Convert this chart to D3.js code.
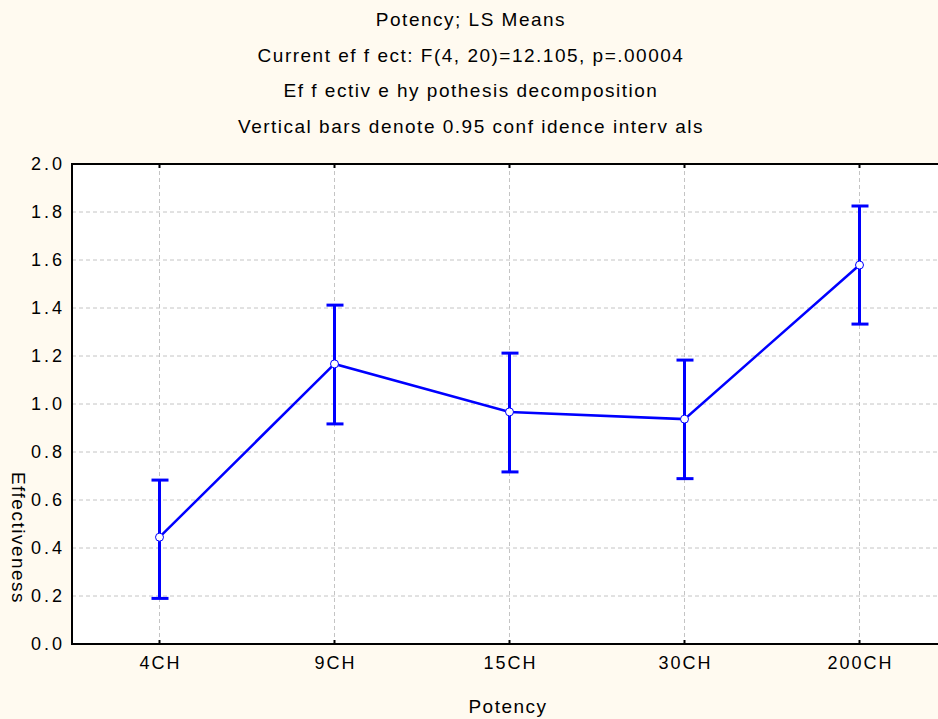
<!DOCTYPE html>
<html>
<head>
<meta charset="utf-8">
<script src="https://cdn.jsdelivr.net/npm/d3@7"></script>
<style>
  body { margin: 0; background: #fffaf0; }
  svg { display: block; font-family: "Liberation Sans", Arial, sans-serif; }
  text { letter-spacing: 1.5px; }
  .tick text { letter-spacing: 2px; }
  .yaxis .tick text { letter-spacing: 3px; }
  .grid line { stroke: #c4c4c4; stroke-dasharray: 4,3; stroke-width: 1; }
</style>
</head>
<body>
<script>
var categories = ["4CH", "9CH", "15CH", "30CH", "200CH"];
var means = [0.445, 1.167, 0.967, 0.937, 1.579];
var lower = [0.19, 0.917, 0.717, 0.689, 1.333];
var upper = [0.683, 1.412, 1.212, 1.183, 1.825];
var yTicks = [0.0, 0.2, 0.4, 0.6, 0.8, 1.0, 1.2, 1.4, 1.6, 1.8, 2.0];
var titleLines = [
    "Potency; LS Means",
    "Current ef f ect: F(4, 20)=12.105, p=.00004",
    "Ef f ectiv e hy pothesis decomposition",
    "Vertical bars denote 0.95 conf idence interv als"
];

var _width = 938, _height = 719,
    _margins = {top: 164, left: 72, bottom: 75},
    _titleSize = 19, _tickSize = 18;

var svg = d3.select("body").append("svg")
        .attr("width", _width)
        .attr("height", _height);

var x = d3.scaleBand()
        .domain(categories)
        .range([_margins.left, _margins.left + 875]);

var y = d3.scaleLinear()
        .domain([0, 2])
        .range([_height - _margins.bottom, _margins.top]);

function cx(c) { return x(c) + x.bandwidth() / 2; }

var data = categories.map(function (c, i) {
    return {cat: c, mean: means[i], lo: lower[i], hi: upper[i]};
});

// plot area
svg.append("rect")
        .attr("x", _margins.left)
        .attr("y", y(2))
        .attr("width", 875)
        .attr("height", y(0) - y(2))
        .attr("fill", "#ffffff");

// grid
var grid = svg.append("g").attr("class", "grid");
grid.selectAll("line.h").data(yTicks.slice(1, -1))
        .enter().append("line")
        .attr("class", "h")
        .attr("x1", _margins.left)
        .attr("x2", _width)
        .attr("y1", function (d) { return y(d); })
        .attr("y2", function (d) { return y(d); });
grid.selectAll("line.v").data(categories)
        .enter().append("line")
        .attr("class", "v")
        .attr("x1", cx)
        .attr("x2", cx)
        .attr("y1", y(2))
        .attr("y2", y(0));

// axes
var xAxis = d3.axisBottom(x).tickSize(0).tickPadding(12);
var xg = svg.append("g")
        .attr("transform", "translate(0," + y(0) + ")")
        .call(xAxis);
xg.select(".domain").remove();
xg.selectAll("text").attr("font-size", _tickSize).attr("fill", "#000")
        .attr("dx", 1)
        .attr("font-family", "Liberation Sans, Arial, sans-serif");

var yAxis = d3.axisLeft(y).tickValues(yTicks).tickSize(0).tickPadding(7)
        .tickFormat(d3.format(".1f"));
var yg = svg.append("g")
        .attr("class", "yaxis")
        .attr("transform", "translate(" + _margins.left + ",0)")
        .call(yAxis);
yg.select(".domain").remove();
yg.selectAll("text").attr("font-size", _tickSize).attr("fill", "#000")
        .attr("font-family", "Liberation Sans, Arial, sans-serif");

// frame lines
svg.append("line")
        .attr("x1", _margins.left).attr("x2", _width)
        .attr("y1", y(2)).attr("y2", y(2))
        .attr("stroke", "#000").attr("stroke-width", 2);
svg.append("line")
        .attr("x1", _margins.left).attr("x2", _width)
        .attr("y1", y(0)).attr("y2", y(0))
        .attr("stroke", "#000").attr("stroke-width", 2);
svg.append("line")
        .attr("x1", _margins.left).attr("x2", _margins.left)
        .attr("y1", y(2) - 1).attr("y2", y(0) + 1)
        .attr("stroke", "#000").attr("stroke-width", 2);

// small inner ticks
svg.selectAll("line.tt").data(categories)
        .enter().append("line")
        .attr("x1", cx).attr("x2", cx)
        .attr("y1", y(2)).attr("y2", y(2) + 4)
        .attr("stroke", "#000").attr("stroke-width", 2);
svg.selectAll("line.bt").data(categories)
        .enter().append("line")
        .attr("x1", cx).attr("x2", cx)
        .attr("y1", y(0)).attr("y2", y(0) - 4)
        .attr("stroke", "#000").attr("stroke-width", 2);

// error bars
var eb = svg.append("g").attr("stroke", "#0000ff").attr("stroke-width", 3);
eb.selectAll("line.bar").data(data)
        .enter().append("line")
        .attr("x1", function (d) { return cx(d.cat); })
        .attr("x2", function (d) { return cx(d.cat); })
        .attr("y1", function (d) { return y(d.lo); })
        .attr("y2", function (d) { return y(d.hi); });
eb.selectAll("line.capHi").data(data)
        .enter().append("line")
        .attr("x1", function (d) { return cx(d.cat) - 8; })
        .attr("x2", function (d) { return cx(d.cat) + 9; })
        .attr("y1", function (d) { return y(d.hi); })
        .attr("y2", function (d) { return y(d.hi); });
eb.selectAll("line.capLo").data(data)
        .enter().append("line")
        .attr("x1", function (d) { return cx(d.cat) - 8; })
        .attr("x2", function (d) { return cx(d.cat) + 9; })
        .attr("y1", function (d) { return y(d.lo); })
        .attr("y2", function (d) { return y(d.lo); });

// means line
var line = d3.line()
        .x(function (d) { return cx(d.cat); })
        .y(function (d) { return y(d.mean); });
svg.append("path")
        .datum(data)
        .attr("d", line)
        .attr("fill", "none")
        .attr("stroke", "#0000ff")
        .attr("stroke-width", 2.5);

svg.selectAll("circle.dot").data(data)
        .enter().append("circle")
        .attr("class", "dot")
        .attr("cx", function (d) { return cx(d.cat); })
        .attr("cy", function (d) { return y(d.mean); })
        .attr("r", 4)
        .attr("fill", "#fff")
        .attr("stroke", "#0000ff")
        .attr("stroke-width", 1);

// titles
svg.selectAll("text.title").data(titleLines)
        .enter().append("text")
        .attr("class", "title")
        .attr("x", 471)
        .attr("y", function (d, i) { return 26 + i * 35.6; })
        .attr("text-anchor", "middle")
        .attr("font-size", _titleSize)
        .text(function (d) { return d; });

svg.append("text")
        .attr("x", 508)
        .attr("y", 713)
        .attr("text-anchor", "middle")
        .attr("font-size", _titleSize)
        .text("Potency");

svg.append("text")
        .attr("transform", "translate(12,538) rotate(90)")
        .attr("text-anchor", "middle")
        .attr("font-size", _titleSize)
        .text("Effectiveness");
</script>
</body>
</html>
